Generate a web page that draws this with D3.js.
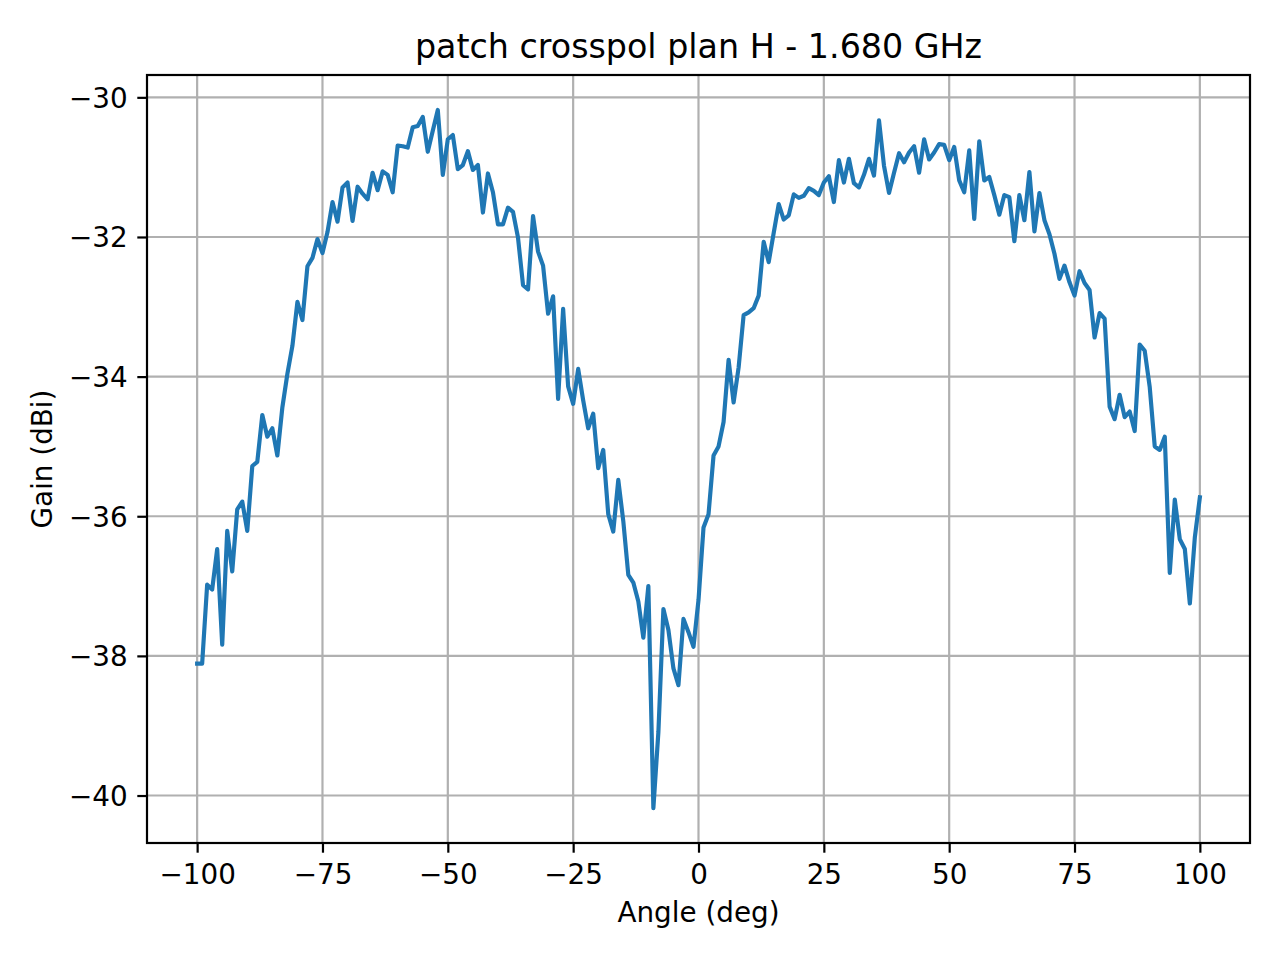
<!DOCTYPE html>
<html>
<head>
<meta charset="utf-8">
<script src="https://cdn.jsdelivr.net/npm/d3@7/dist/d3.min.js"></script>
<style>
  html, body { margin: 0; padding: 0; background: #fff; }
  svg { display: block; font-family: 'DejaVu Sans', sans-serif; }
</style>
</head>
<body>
<svg id="chart"></svg>
<script>
var title = 'patch crosspol plan H - 1.680 GHz';
var xLabel = 'Angle (deg)';
var yLabel = 'Gain (dBi)';

var angles = [
  -100, -99, -98, -97, -96, -95, -94, -93, -92, -91,
  -90, -89, -88, -87, -86, -85, -84, -83, -82, -81,
  -80, -79, -78, -77, -76, -75, -74, -73, -72, -71,
  -70, -69, -68, -67, -66, -65, -64, -63, -62, -61,
  -60, -59, -58, -57, -56, -55, -54, -53, -52, -51,
  -50, -49, -48, -47, -46, -45, -44, -43, -42, -41,
  -40, -39, -38, -37, -36, -35, -34, -33, -32, -31,
  -30, -29, -28, -27, -26, -25, -24, -23, -22, -21,
  -20, -19, -18, -17, -16, -15, -14, -13, -12, -11,
  -10, -9, -8, -7, -6, -5, -4, -3, -2, -1,
  0, 1, 2, 3, 4, 5, 6, 7, 8, 9,
  10, 11, 12, 13, 14, 15, 16, 17, 18, 19,
  20, 21, 22, 23, 24, 25, 26, 27, 28, 29,
  30, 31, 32, 33, 34, 35, 36, 37, 38, 39,
  40, 41, 42, 43, 44, 45, 46, 47, 48, 49,
  50, 51, 52, 53, 54, 55, 56, 57, 58, 59,
  60, 61, 62, 63, 64, 65, 66, 67, 68, 69,
  70, 71, 72, 73, 74, 75, 76, 77, 78, 79,
  80, 81, 82, 83, 84, 85, 86, 87, 88, 89,
  90, 91, 92, 93, 94, 95, 96, 97, 98, 99,
  100
];

// gain, one value per angle
var gains = [
  -38.11, -38.11, -36.98, -37.05, -36.47, -37.84, -36.21, -36.79, -35.90, -35.79,
  -36.21, -35.28, -35.22, -34.55, -34.86, -34.74, -35.13, -34.44, -33.96, -33.56,
  -32.93, -33.19, -32.42, -32.30, -32.03, -32.23, -31.93, -31.50, -31.78, -31.29,
  -31.22, -31.77, -31.28, -31.38, -31.46, -31.08, -31.33, -31.06, -31.11, -31.36,
  -30.69, -30.70, -30.72, -30.43, -30.41, -30.28, -30.78, -30.48, -30.18, -31.11,
  -30.60, -30.54, -31.03, -30.97, -30.77, -31.04, -30.97, -31.65, -31.09, -31.36,
  -31.82, -31.82, -31.58, -31.64, -32.01, -32.69, -32.75, -31.70, -32.21, -32.41,
  -33.10, -32.85, -34.32, -33.03, -34.14, -34.39, -33.89, -34.34, -34.74, -34.53,
  -35.31, -35.05, -35.97, -36.22, -35.48, -36.07, -36.84, -36.95, -37.22, -37.74,
  -37.00, -40.18, -39.09, -37.33, -37.63, -38.18, -38.42, -37.47, -37.66, -37.87,
  -37.20, -36.16, -35.97, -35.13, -35.00, -34.65, -33.76, -34.37, -33.87, -33.12,
  -33.08, -33.02, -32.84, -32.07, -32.36, -31.94, -31.53, -31.75, -31.69, -31.39,
  -31.44, -31.41, -31.30, -31.34, -31.40, -31.22, -31.13, -31.50, -30.90, -31.22,
  -30.88, -31.23, -31.29, -31.11, -30.88, -31.12, -30.33, -30.98, -31.37, -31.08,
  -30.80, -30.93, -30.79, -30.70, -31.08, -30.60, -30.89, -30.79, -30.67, -30.68,
  -30.90, -30.71, -31.19, -31.36, -30.76, -31.74, -30.63, -31.19, -31.14, -31.40,
  -31.68, -31.40, -31.43, -32.06, -31.40, -31.76, -31.07, -31.92, -31.37, -31.76,
  -31.96, -32.24, -32.60, -32.41, -32.65, -32.84, -32.49, -32.66, -32.76, -33.44,
  -33.09, -33.17, -34.43, -34.61, -34.26, -34.58, -34.50, -34.78, -33.54, -33.63,
  -34.15, -35.00, -35.05, -34.86, -36.81, -35.76, -36.33, -36.47, -37.25, -36.30,
  -35.73
];

var xTicks = [-100, -75, -50, -25, 0, 25, 50, 75, 100];
var yTicks = [-40, -38, -36, -34, -32, -30];

drawChart();

function drawChart() {
  var width = 1280, height = 960;
  var margin = {top: 75, right: 30, bottom: 117, left: 147};
  var innerW = width - margin.left - margin.right;
  var innerH = height - margin.top - margin.bottom;

  var data = angles.map(function(a, i) { return {angle: a, gain: gains[i]}; });

  // 5% padding on each side, like matplotlib autoscale
  var xExt = d3.extent(angles), yExt = d3.extent(gains);
  var xPad = (xExt[1] - xExt[0]) * 0.05, yPad = (yExt[1] - yExt[0]) * 0.05;

  var x = d3.scaleLinear()
    .domain([xExt[0] - xPad, xExt[1] + xPad])
    .range([0, innerW]);

  var y = d3.scaleLinear()
    .domain([yExt[0] - yPad, yExt[1] + yPad])
    .range([innerH, 0]);

  var svg = d3.select('#chart')
    .attr('width', width)
    .attr('height', height);

  var g = svg.append('g')
    .attr('transform', 'translate(' + margin.left + ',' + margin.top + ')');

  // grid
  g.append('g')
    .attr('class', 'grid')
    .selectAll('line.gx')
    .data(xTicks)
    .enter().append('line')
    .attr('x1', function(d) { return x(d); })
    .attr('x2', function(d) { return x(d); })
    .attr('y1', 0)
    .attr('y2', innerH)
    .attr('stroke', '#b0b0b0')
    .attr('stroke-width', 2.2);

  g.select('.grid')
    .selectAll('line.gy')
    .data(yTicks)
    .enter().append('line')
    .attr('x1', 0)
    .attr('x2', innerW)
    .attr('y1', function(d) { return y(d); })
    .attr('y2', function(d) { return y(d); })
    .attr('stroke', '#b0b0b0')
    .attr('stroke-width', 2.2);

  // the curve
  var line = d3.line()
    .x(function(d) { return x(d.angle); })
    .y(function(d) { return y(d.gain); });

  g.append('path')
    .datum(data)
    .attr('d', line)
    .attr('fill', 'none')
    .attr('stroke', '#1f77b4')
    .attr('stroke-width', 4.17)
    .attr('stroke-linejoin', 'round')
    .attr('stroke-linecap', 'square');

  // axes
  var xAxis = d3.axisBottom(x)
    .tickValues(xTicks)
    .tickSize(9.7)
    .tickPadding(9.7)
    .tickFormat(d3.format('d'));

  var yAxis = d3.axisLeft(y)
    .tickValues(yTicks)
    .tickSize(9.7)
    .tickPadding(9.7)
    .tickFormat(d3.format('d'));

  var gx = g.append('g')
    .attr('transform', 'translate(0,' + innerH + ')')
    .call(xAxis);

  var gy = g.append('g')
    .call(yAxis);

  [gx, gy].forEach(function(ax) {
    ax.select('.domain').remove();
    ax.selectAll('.tick line').attr('stroke', '#000').attr('stroke-width', 2.2);
    ax.selectAll('.tick text')
      .attr('fill', '#000')
      .style('font-size', '27.8px')
      .style('font-family', "'DejaVu Sans', sans-serif");
  });

  gx.selectAll('.tick text').attr('dy', '0.76em');
  gy.selectAll('.tick text').attr('dy', '0.36em');

  // frame
  g.append('rect')
    .attr('x', 0)
    .attr('y', 0)
    .attr('width', innerW)
    .attr('height', innerH)
    .attr('fill', 'none')
    .attr('stroke', '#000')
    .attr('stroke-width', 2.2);

  // texts
  svg.append('text')
    .attr('x', margin.left + innerW / 2)
    .attr('y', margin.top - 16.7)
    .attr('text-anchor', 'middle')
    .style('font-size', '33.3px')
    .text(title);

  svg.append('text')
    .attr('x', margin.left + innerW / 2)
    .attr('y', 922)
    .attr('text-anchor', 'middle')
    .style('font-size', '27.8px')
    .text(xLabel);

  svg.append('text')
    .attr('transform', 'translate(52,' + (margin.top + innerH / 2) + ') rotate(-90)')
    .attr('text-anchor', 'middle')
    .style('font-size', '27.8px')
    .text(yLabel);
}
</script>
</body>
</html>
